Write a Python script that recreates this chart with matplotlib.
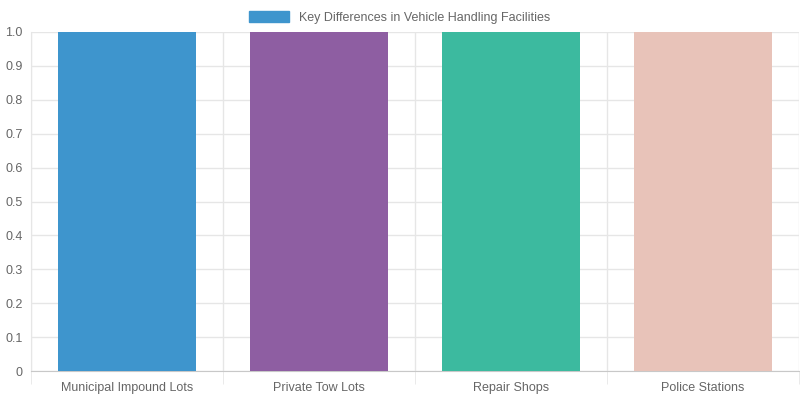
import matplotlib.pyplot as plt
import matplotlib.patches as mpatches

categories = ['Municipal Impound Lots', 'Private Tow Lots', 'Repair Shops', 'Police Stations']
values = [1, 1, 1, 1]
colors = ['#3e95cd', '#8e5ea2', '#3cba9f', '#e8c3b9']
label = 'Key Differences in Vehicle Handling Facilities'

plt.rcParams['font.family'] = ['Liberation Sans', 'DejaVu Sans']
fig = plt.figure(figsize=(8, 4), dpi=100)
ax = fig.add_axes([31 / 800, 29 / 400, 768 / 800, 339 / 400])

x = range(len(categories))
ax.bar(x, values, width=0.72, color=colors, zorder=3)
ax.set_xlim(-0.5, len(categories) - 0.5)
ax.set_ylim(0, 1)
ax.set_yticks([i / 10 for i in range(11)])
ax.set_yticklabels(['0'] + ['%.1f' % (i / 10) for i in range(1, 11)])
ax.set_xticks(list(x))
ax.set_xticklabels(categories)
ax.set_xticks([i - 0.5 for i in range(len(categories) + 1)], minor=True)

ax.grid(axis='y', color='#e6e6e6', linewidth=1, zorder=0)
ax.grid(axis='x', which='minor', color='#e6e6e6', linewidth=1, zorder=0)
ax.tick_params(axis='x', which='major', length=0, pad=8, labelsize=9, labelcolor='#666666')
ax.tick_params(axis='x', which='minor', length=9, color='#e6e6e6')
ax.tick_params(axis='y', length=0, pad=6, labelsize=9, labelcolor='#666666')
for side in ['top', 'right']:
    ax.spines[side].set_visible(False)
ax.spines['left'].set_color('#e6e6e6')
ax.spines['bottom'].set_color('#c8c8c8')

handle = mpatches.Patch(color=colors[0], label=label)
fig.legend(handles=[handle], loc='upper center', bbox_to_anchor=(0.5, 1.0), frameon=False,
           fontsize=9, labelcolor='#666666', handlelength=3.2, handleheight=0.9)

fig.savefig('out.png', dpi=100)
